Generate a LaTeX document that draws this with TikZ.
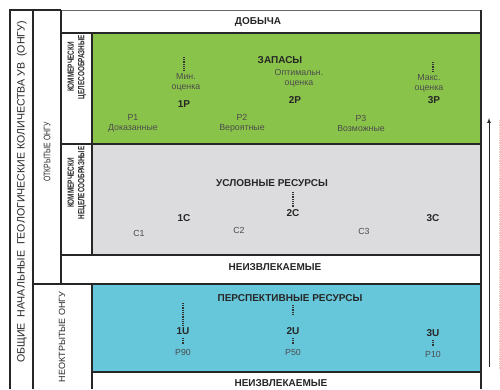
\documentclass[tikz,border=0pt]{standalone}
\usepackage{fontspec}
\setmainfont{Liberation Sans}
\definecolor{grn}{RGB}{138,195,74}
\definecolor{gry}{RGB}{220,220,222}
\definecolor{blu}{RGB}{102,199,219}
\begin{document}
\begin{tikzpicture}[x=1pt,y=-1pt,
  frame/.style={draw=black!85,line width=1.1pt},
  big/.style={font=\fontsize{10}{12}\selectfont\bfseries,text=black!85,inner sep=0},
  small/.style={font=\fontsize{8.8}{10}\selectfont,text=black!70,inner sep=0,align=center},
  vert/.style={rotate=90,font=\fontsize{9.5}{11}\selectfont,text=black!85,inner sep=0,align=center},
  vertb/.style={rotate=90,font=\fontsize{9}{10.5}\selectfont\bfseries,text=black!85,inner sep=0},
  dotsln/.style={line width=2pt,dash pattern=on 1pt off 0.8pt,black!80}]
\useasboundingbox (0,0) rectangle (500,389);
% fills
\fill[grn] (92,33) rectangle (481,144);
\fill[gry] (92,144) rectangle (481,255);
\fill[blu] (92,284) rectangle (481,372);
% frame lines
\draw[frame] (10,389) -- (10,10) -- (61,10);
\draw[draw=black!60,line width=0.9pt] (61,10) -- (481,10);
\draw[frame] (481,10) -- (481,389);
\draw[frame] (33,10) -- (33,389);
\draw[frame] (61,10) -- (61,284);
\draw[frame] (92,33) -- (92,255);
\draw[frame] (92,284) -- (92,389);
\draw[frame] (61,33) -- (481,33);
\draw[frame] (61,144) -- (481,144);
\draw[frame] (61,255) -- (481,255);
\draw[frame] (33,284) -- (481,284);
\draw[frame] (92,372) -- (481,372);
\draw[line width=2pt,black!85] (163,144) -- (203,144);
% vertical labels
\node[vert,font=\fontsize{10.6}{12}\selectfont] (onGU) at (22,192) {ОБЩИЕ \ НАЧАЛЬНЫЕ \ ГЕОЛОГИЧЕСКИЕ КОЛИЧЕСТВА УВ \ (ОНГУ)};
\node[vert] (otkr) at (47,152) {\scalebox{0.72}[1]{ОТКРЫТЫЕ ОНГУ}};
\node[vertb] (kc) at (77,67) {\scalebox{0.71}[1]{\begin{tabular}{@{}c@{}}КОММЕРЧЕСКИ\\ЦЕЛЕСООБРАЗНЫЕ\end{tabular}}};
\node[vertb] (knc) at (77,183) {\scalebox{0.71}[1]{\begin{tabular}{@{}c@{}}КОММЕРЧЕСКИ\\НЕЦЕЛЕСООБРАЗНЫЕ\end{tabular}}};
\node[vert,font=\fontsize{9}{11}\selectfont] (neotkr) at (62,337) {НЕОКТРЫТЫЕ ОНГУ};
% top rows
\node[big] (dob) at (258,22) {ДОБЫЧА};
\node[big] (zap) at (280,60) {ЗАПАСЫ};
\node[small] (min) at (186,82) {Мин.\\оценка};
\node[small] (opt) at (299,78) {Оптимальн.\\оценка};
\node[small] (max) at (429,83) {Макс.\\оценка};
\node[big] (p1P) at (184,104) {1P};
\node[big] (p2P) at (295,100) {2P};
\node[big] (p3P) at (434,100) {3P};
\node[small] (p1) at (133,123) {P1\\Доказанные};
\node[small] (p2) at (242,123) {P2\\Вероятные};
\node[small] (p3) at (361,123) {P3\\Возможные};
\coordinate (d1a) at (184,57); \coordinate (d1b) at (184,71);
\coordinate (d3a) at (433,62); \coordinate (d3b) at (433,72);
\draw[dotsln] (d1a) -- (d1b);
\draw[dotsln] (d3a) -- (d3b);
% gray
\node[big] (usl) at (272,183) {УСЛОВНЫЕ РЕСУРСЫ};
\node[big] (c1C) at (184,218) {1C};
\node[big] (c2C) at (293,213) {2C};
\node[big] (c3C) at (433,218) {3C};
\node[small] (c1) at (139,233) {C1};
\node[small] (c2) at (239,230) {C2};
\node[small] (c3) at (364,231) {C3};
\coordinate (d2a) at (293,192); \coordinate (d2b) at (293,207);
\draw[dotsln] (d2a) -- (d2b);
\node[big] (neizv1) at (275,267) {НЕИЗВЛЕКАЕМЫЕ};
% blue
\node[big] (persp) at (290,298) {ПЕРСПЕКТИВНЫЕ РЕСУРСЫ};
\node[big] (u1) at (183,331) {1U};
\node[big] (u2) at (293,331) {2U};
\node[big] (u3) at (433,333) {3U};
\node[small] (p90) at (183,352) {P90};
\node[small] (p50) at (293,352) {P50};
\node[small] (p10) at (433,354) {P10};
\coordinate (e1a) at (183,303); \coordinate (e1b) at (183,326);
\coordinate (e2a) at (293,305); \coordinate (e2b) at (293,315);
\draw[dotsln] (e1a) -- (e1b);
\draw[dotsln] (e2a) -- (e2b);
\draw[dotsln] (183,338) -- (183,345);
\draw[dotsln] (293,338) -- (293,345);
\draw[dotsln] (433,340) -- (433,347);
\node[big] (neizv2) at (281,383) {НЕИЗВЛЕКАЕМЫЕ};
% right arrow
\coordinate (ar0) at (489,367); \coordinate (ar1) at (489,118);
\draw[-latex,black!85,line width=0.7pt] (ar0) -- (ar1);
\coordinate (dl0) at (499,120); \coordinate (dl1) at (499,370);
\draw[densely dotted,brown!40,line width=0.8pt] (dl0) -- (dl1);
\end{tikzpicture}
\end{document}
